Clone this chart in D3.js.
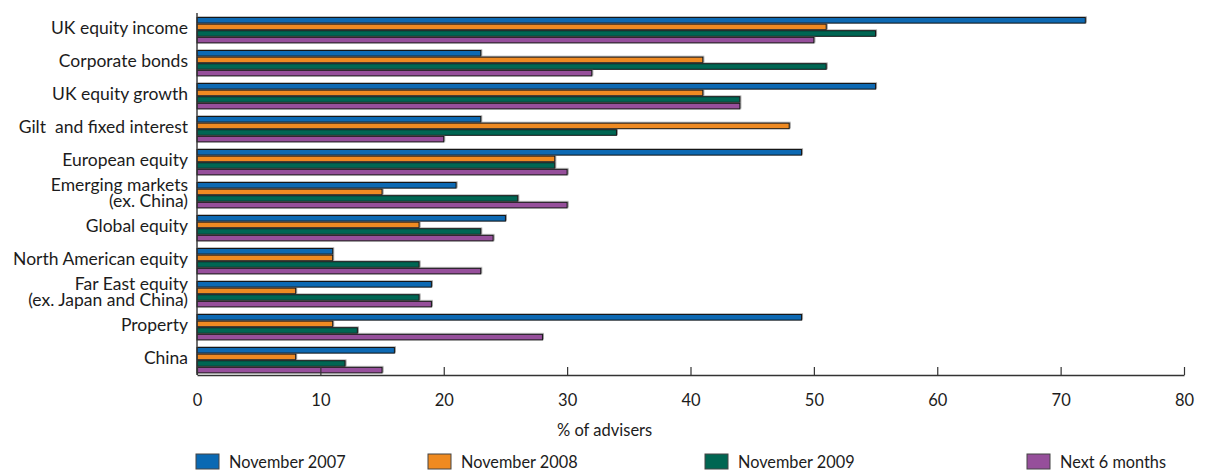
<!DOCTYPE html>
<html>
<head>
<meta charset="utf-8">
<script src="https://cdn.jsdelivr.net/npm/d3@7"></script>
<style>
  body { margin: 0; background: #fff; }
  text { font-family: Lato, "Open Sans", sans-serif; fill: #1c1c1c; }
</style>
</head>
<body>
<svg id="chart" width="1208" height="471"></svg>
<script>
// Fund sectors, top to bottom
const categories = [
  "UK equity income",
  "Corporate bonds",
  "UK equity growth",
  "Gilt  and fixed interest",
  "European equity",
  "Emerging markets\n(ex. China)",
  "Global equity",
  "North American equity",
  "Far East equity\n(ex. Japan and China)",
  "Property",
  "China"
];

// % of advisers recommending each sector
const nov2007 = [72, 23, 55, 23, 49, 21, 25, 11, 19, 49, 16];
const nov2008 = [51, 41, 41, 48, 29, 15, 18, 11,  8, 11,  8];
const nov2009 = [55, 51, 44, 34, 29, 26, 23, 18, 18, 13, 12];
const next6m  = [50, 32, 44, 20, 30, 30, 24, 23, 19, 28, 15];

const seriesNames  = ["November 2007", "November 2008", "November 2009", "Next 6 months"];
const seriesValues = [nov2007, nov2008, nov2009, next6m];
const seriesColors = ["#0a69b3", "#ef8a20", "#006652", "#964f9b"];

const xTicks = [0, 10, 20, 30, 40, 50, 60, 70, 80];
const xTitle = "% of advisers";

const svg = d3.select("#chart");

// Drop shadow under each bar
const defs = svg.append("defs");
const f = defs.append("filter").attr("id", "barShadow")
  .attr("x", "-5%").attr("y", "-40%").attr("width", "110%").attr("height", "180%");
f.append("feDropShadow").attr("dx", 1).attr("dy", -0.6)
  .attr("stdDeviation", 0.4).attr("flood-color", "#555").attr("flood-opacity", 0.6);

const x = d3.scaleLinear().domain([0, 80]).range([197, 1184]);
const y = d3.scaleBand().domain(categories).range([17, 373.4])
  .paddingInner(0.2).paddingOuter(0);
const ySub = d3.scaleBand().domain(seriesNames).range([0, y.bandwidth()]);

const axisY = 375;

// Bars
const groups = svg.append("g").selectAll("g")
  .data(categories)
  .join("g")
  .attr("transform", d => `translate(0,${y(d)})`);

groups.selectAll("rect")
  .data((c, i) => seriesNames.map((s, k) => ({ s, k, v: seriesValues[k][i] })))
  .join("rect")
  .attr("x", x(0))
  .attr("y", d => ySub(d.s) + 0.5)
  .attr("width", d => x(d.v) - x(0))
  .attr("height", ySub.bandwidth() - 1)
  .attr("fill", d => seriesColors[d.k])
  .attr("stroke", "#151515")
  .attr("stroke-width", 1)
  .attr("filter", "url(#barShadow)");

// Horizontal axis with inward ticks
const gx = svg.append("g")
  .attr("transform", `translate(0,${axisY})`)
  .call(d3.axisBottom(x).tickValues(xTicks).tickSizeInner(-8).tickSizeOuter(0).tickPadding(19));
gx.select(".domain").attr("stroke", "#333").attr("stroke-width", 1.4);
gx.selectAll(".tick line").attr("stroke", "#333").attr("stroke-width", 1.2);
gx.selectAll(".tick text")
  .style("font-family", "Lato, 'Open Sans', sans-serif")
  .style("font-size", "16.5px").attr("fill", "#1c1c1c");

// Vertical axis line
svg.append("line")
  .attr("x1", x(0)).attr("x2", x(0))
  .attr("y1", 13).attr("y2", axisY)
  .attr("stroke", "#333").attr("stroke-width", 1.4);

// Category labels (two-line labels split on "\n")
const gy = svg.append("g")
  .attr("transform", `translate(${x(0)},0)`)
  .call(d3.axisLeft(y).tickSize(0).tickPadding(9));
gy.select(".domain").remove();
gy.selectAll(".tick text")
  .style("font-family", "Lato, 'Open Sans', sans-serif")
  .style("font-size", "17.5px")
  .style("white-space", "pre")
  .attr("fill", "#1c1c1c")
  .each(function(d) {
    const lines = d.split("\n");
    const t = d3.select(this).text(null).attr("dy", null);
    const lh = 16.5;
    lines.forEach((ln, i) => {
      t.append("tspan")
        .attr("x", -9)
        .attr("y", (i - (lines.length - 1) / 2) * lh - 2)
        .attr("dy", "0.34em")
        .text(ln);
    });
  });

// Axis title
svg.append("text")
  .attr("x", 557).attr("y", 436)
  .style("font-size", "16.5px")
  .text(xTitle);

// Legend
const legendX = [196, 428, 705, 1027];
const lg = svg.append("g").selectAll("g")
  .data(seriesNames)
  .join("g")
  .attr("transform", (d, i) => `translate(${legendX[i]},454)`);
lg.append("rect")
  .attr("width", 23).attr("height", 15)
  .attr("fill", (d, i) => seriesColors[i])
  .attr("stroke", "#444").attr("stroke-width", 1);
lg.append("text")
  .attr("x", 33).attr("y", 13.5)
  .style("font-size", "16.3px")
  .text(d => d);
</script>
</body>
</html>
